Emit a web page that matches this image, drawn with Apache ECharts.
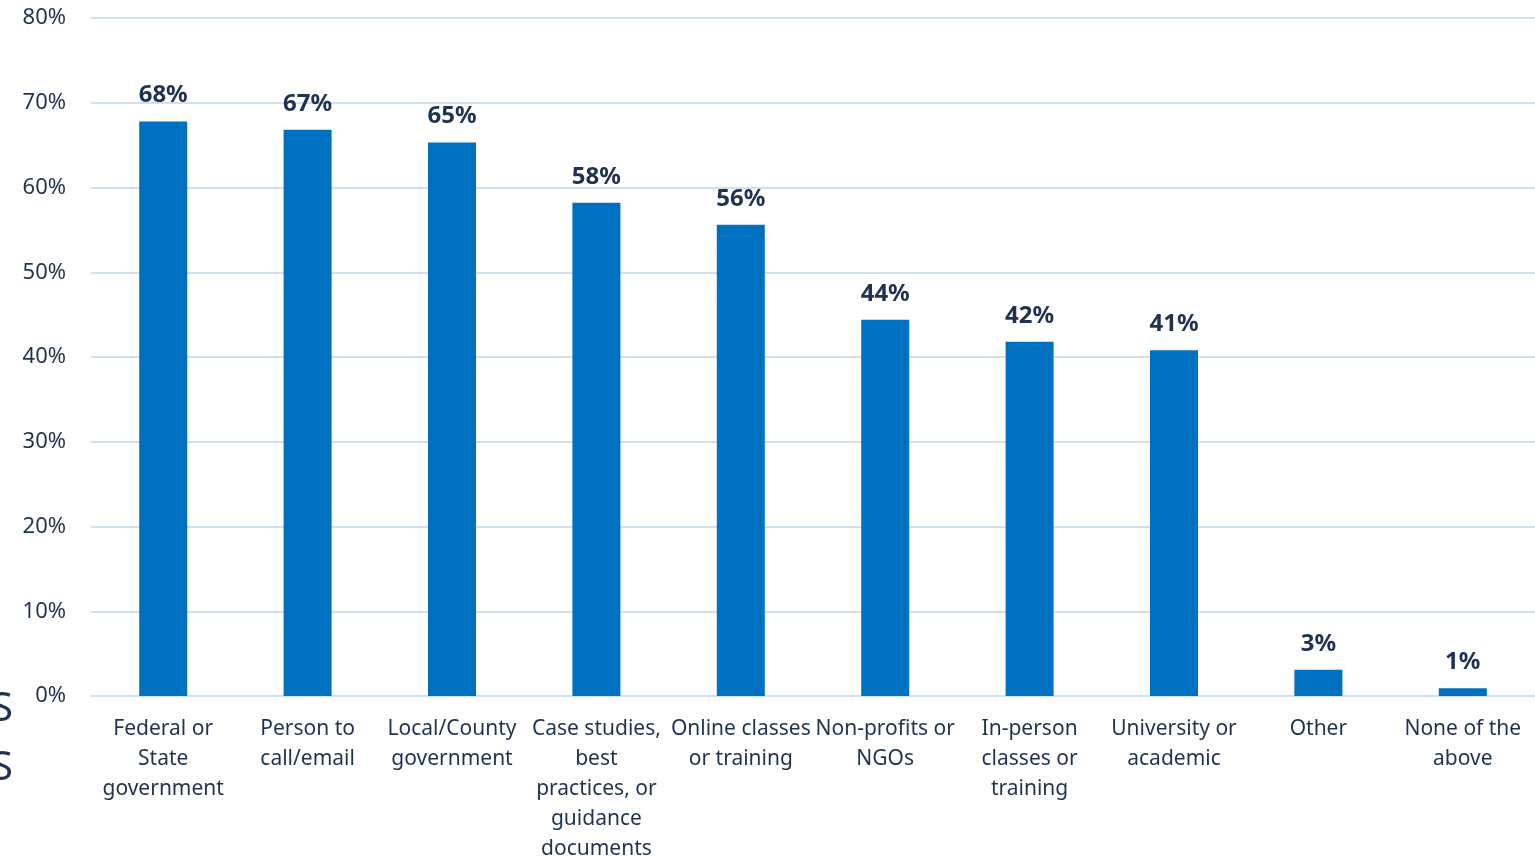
<!DOCTYPE html>
<html><head><meta charset="utf-8">
<script src="https://cdn.jsdelivr.net/npm/echarts@6/dist/echarts.min.js"></script>
<style>html,body{margin:0;padding:0;background:#fff}#c{width:1535px;height:857px}</style>
</head><body><div id="c"></div>
<script>
const categories = ["Federal or\nState\ngovernment","Person to\ncall/email","Local/County\ngovernment","Case studies,\nbest\npractices, or\nguidance\ndocuments","Online classes\nor training","Non-profits or\nNGOs","In-person\nclasses or\ntraining","University or\nacademic","Other","None of the\nabove"];
const values = [67.8, 66.8, 65.3, 58.2, 55.6, 44.4, 41.8, 40.8, 3.1, 0.9];
const labels = ["68%","67%","65%","58%","56%","44%","42%","41%","3%","1%"];
const yTicks = [0,10,20,30,40,50,60,70,80];
const font = "'Source Sans Pro','Noto Sans',sans-serif";
const chart = echarts.init(document.getElementById('c'));
chart.setOption({
  animation:false,
  grid:{left:91,right:0,top:18,bottom:161,outerBoundsMode:'none',containLabel:false},
  graphic:[
    {type:'text',left:-9,top:690,style:{text:'S',fontSize:40,fill:'#1F3350',fontFamily:font}},
    {type:'text',left:-9,top:749,style:{text:'S',fontSize:40,fill:'#1F3350',fontFamily:font}}
  ],
  xAxis:{type:'category',data:categories,
    axisLine:{show:true,lineStyle:{color:'#D0E0F0',width:2}},axisTick:{show:false},
    axisLabel:{interval:0,color:'#1F3350',fontSize:21,fontFamily:font,lineHeight:30,margin:18}},
  yAxis:{type:'value',min:0,max:80,interval:10,
    axisLine:{show:false},axisTick:{show:false},
    splitLine:{lineStyle:{color:'#D0E0F0',width:2}},
    axisLabel:{formatter:v=>v+'%',color:'#1F3350',fontSize:22,fontFamily:font,margin:25}},
  series:[{type:'bar',data:values,barWidth:48,itemStyle:{color:'#0070C0'},
    label:{show:true,position:'top',distance:14,formatter:p=>labels[p.dataIndex],color:'#1F3350',fontSize:24,fontWeight:'bold',fontFamily:font}}]
});
</script></body></html>
